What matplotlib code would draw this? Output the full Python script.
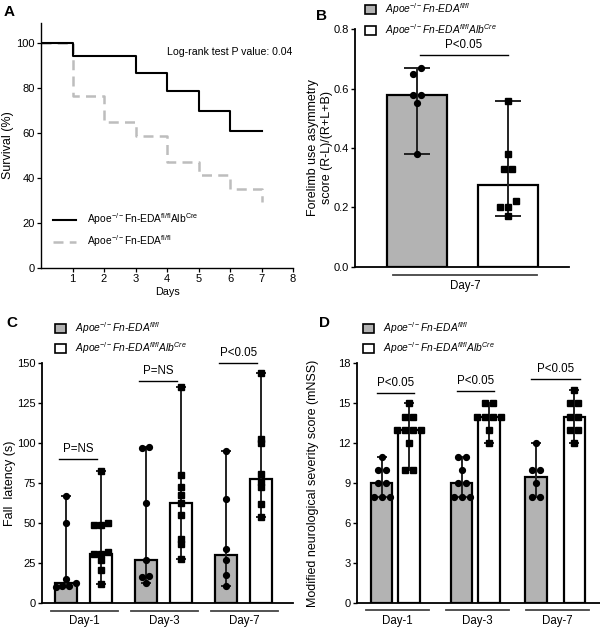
import numpy as np
import matplotlib
matplotlib.use("Agg")
import matplotlib.pyplot as plt
from matplotlib.patches import Patch
from matplotlib.lines import Line2D

plt.rcParams['font.family'] = ['Liberation Sans', 'DejaVu Sans']
plt.rcParams['mathtext.fontset'] = 'custom'
plt.rcParams['mathtext.rm'] = 'Liberation Sans'
plt.rcParams['mathtext.it'] = 'Liberation Sans:italic'
plt.rcParams['mathtext.bf'] = 'Liberation Sans:bold'
plt.rcParams['axes.linewidth'] = 1.3

# ---------------- DATA ----------------
# Panel A: Kaplan-Meier survival
km_cre_days = [0, 1, 3, 4, 5, 6, 7]
km_cre_surv = [100, 94.4, 86.5, 78.5, 69.8, 60.9, 60.9]
km_fl_days = [0, 1, 2, 3, 4, 5, 6, 7, 7]
km_fl_surv = [100, 76.5, 64.7, 58.8, 47.1, 41.2, 35.3, 35.3, 29.4]
logrank_text = "Log-rank test P value: 0.04"

# Panel B: forelimb asymmetry, Day-7
b_category = "Day-7"
b_bar = [0.58, 0.275]
b_fl_pts = [0.67, 0.65, 0.58, 0.58, 0.55, 0.38]
b_cre_pts = [0.56, 0.38, 0.33, 0.33, 0.22, 0.20, 0.20, 0.17]
b_sig = "P<0.05"

# Panel C: fall latency
c_days = ["Day-1", "Day-3", "Day-7"]
c_bar_fl = [12.5, 27, 30]
c_bar_cre = [31, 63, 78]
c_fl_pts = [
    [67, 50, 15, 10.5, 11, 11, 12.5],
    [98, 97, 63, 27, 17, 16.5, 12.5],
    [95, 65, 34, 27, 18, 11],
]
c_cre_pts = [
    [83, 50, 49, 49, 32, 31, 31, 27, 21, 12],
    [135, 80, 73, 68, 63, 55, 40, 37, 28],
    [144, 103, 100, 81, 76, 73, 62, 54],
]
c_sig = ["P=NS", "P=NS", "P<0.05"]

# Panel D: mNSS
d_days = ["Day-1", "Day-3", "Day-7"]
d_bar_fl = [9, 9, 9.5]
d_bar_cre = [13, 14, 14]
d_fl_pts = [
    [11, 10, 10, 9, 9, 8, 8, 8],
    [11, 11, 10, 9, 9, 8, 8, 8],
    [12, 10, 10, 9, 8, 8],
]
d_cre_pts = [
    [15, 14, 14, 13, 13, 13, 13, 12, 10, 10],
    [15, 15, 14, 14, 14, 14, 13, 12],
    [16, 15, 15, 14, 14, 13, 13, 12],
]
d_sig = ["P<0.05", "P<0.05", "P<0.05"]

lab_fl_it = r"Apoe$^{-/-}$Fn-EDA$^{fl/fl}$"
lab_cre_it = r"Apoe$^{-/-}$Fn-EDA$^{fl/fl}$Alb$^{Cre}$"
lab_fl_rm = r"Apoe$^{\mathrm{-/-}}$Fn-EDA$^{\mathrm{fl/fl}}$"
lab_cre_rm = r"Apoe$^{\mathrm{-/-}}$Fn-EDA$^{\mathrm{fl/fl}}$Alb$^{\mathrm{Cre}}$"

# ---------------- STYLE ----------------
GRAY = '#b3b3b3'
ECOL = '#222222'
FS_TICK = 8
FS_LAB = 9

W, H = 600, 627
fig = plt.figure(figsize=(6.0, 6.27), dpi=100)


def ax_px(l, r, t, b):
    return fig.add_axes([l / W, 1 - b / H, (r - l) / W, (b - t) / H])


def jitter(vals, tol, step):
    vals = np.asarray(vals, float)
    order = np.argsort(vals)
    offs = np.zeros(len(vals))
    clusters = []
    cur = [order[0]]
    for i in order[1:]:
        if vals[i] - vals[cur[-1]] < tol:
            cur.append(i)
        else:
            clusters.append(cur)
            cur = [i]
    clusters.append(cur)
    for c in clusters:
        n = len(c)
        for k, i in enumerate(c):
            offs[i] = (k - (n - 1) / 2) * step
    return offs


def style_bar_axes(ax):
    for s in ['top', 'right']:
        ax.spines[s].set_visible(False)
    ax.tick_params(axis='x', bottom=False, labelbottom=False)
    ax.tick_params(axis='y', labelsize=FS_TICK, length=3, width=1, pad=1.5)


def draw_group(ax, x, h, pts, color, marker, width, capsize, tol, step):
    pts = np.asarray(pts, float)
    ax.bar(x, h, width, color=color, edgecolor='black', linewidth=1.6, zorder=1)
    ax.errorbar([x], [h], yerr=[[h - pts.min()], [pts.max() - h]], fmt='none',
                ecolor=ECOL, elinewidth=1.4, capsize=capsize, capthick=1.4, zorder=2)
    offs = jitter(pts, tol, step)
    ax.plot(x + offs, pts, linestyle='none', marker=marker, ms=4.2 if marker == 'o' else 4.0,
            color='black', zorder=3, clip_on=False)


def sig(ax, x0, x1, y, txt, dy):
    ax.plot([x0, x1], [y, y], color='black', lw=1.0, clip_on=False)
    ax.text((x0 + x1) / 2, y + dy, txt, ha='center', va='bottom', fontsize=8.3)


def underline(ax, x0, x1, yl, yt, txt):
    tr = ax.get_xaxis_transform()
    ax.plot([x0, x1], [yl, yl], color='#444444', lw=1.3, transform=tr, clip_on=False)
    ax.text((x0 + x1) / 2, yt, txt, ha='center', va='center', fontsize=8.3, transform=tr)


def bar_legend(ax, x, y):
    hs = [Patch(facecolor=GRAY, edgecolor='black', linewidth=1.2),
          Patch(facecolor='white', edgecolor='black', linewidth=1.2)]
    leg = ax.legend(hs, [lab_fl_it, lab_cre_it], loc='upper left', bbox_to_anchor=(x, y),
                    bbox_transform=fig.transFigure, frameon=False, handlelength=1.1,
                    handleheight=1.0, handletextpad=0.8, labelspacing=0.45,
                    prop={'size': 7.4, 'style': 'italic'}, borderaxespad=0, borderpad=0)
    return leg


# ---------------- PANEL A ----------------
axA = ax_px(41, 293, 22.7, 268)
axA.plot(km_fl_days, km_fl_surv, drawstyle='steps-post', color='#bdbdbd', lw=1.8,
         dashes=(4, 2.5), label=lab_fl_rm, zorder=2)
axA.plot(km_cre_days, km_cre_surv, drawstyle='steps-post', color='black', lw=1.5,
         label=lab_cre_rm, zorder=3)
axA.set_xlim(0, 8)
axA.set_ylim(0, 109)
axA.set_xticks(range(1, 9))
axA.set_yticks(range(0, 101, 20))
for s in ['top', 'right']:
    axA.spines[s].set_visible(False)
axA.spines['left'].set_linewidth(1.0)
axA.spines['bottom'].set_linewidth(1.0)
axA.tick_params(labelsize=FS_TICK, length=3, width=0.9, pad=1.5)
axA.set_xlabel("Days", fontsize=7.8, labelpad=2)
axA.set_ylabel("Survival (%)", fontsize=FS_LAB, labelpad=1.5)
axA.text(4.0, 96, logrank_text, fontsize=7.6, va='center', ha='left')
hA = [Line2D([], [], color='black', lw=1.5),
      Line2D([], [], color='#bdbdbd', lw=1.8, dashes=(4, 2.5))]
axA.legend(hA, [lab_cre_rm, lab_fl_rm], loc='lower left', bbox_to_anchor=(0.03, 0.06),
           frameon=False, fontsize=7.4, handlelength=2.3, handletextpad=1.0,
           labelspacing=0.6, borderaxespad=0)

# ---------------- PANEL B ----------------
axB = ax_px(355, 569, 29.3, 266.7)
style_bar_axes(axB)
draw_group(axB, 0, b_bar[0], b_fl_pts, GRAY, 'o', 0.65, 9.5, 0.025, 0.09)
draw_group(axB, 1, b_bar[1], b_cre_pts, 'white', 's', 0.65, 9.5, 0.025, 0.09)
axB.set_xlim(-0.68, 1.67)
axB.set_ylim(0, 0.8)
axB.set_yticks(np.arange(0, 0.81, 0.2))
axB.set_yticklabels([f"{v:.1f}" for v in np.arange(0, 0.81, 0.2)])
axB.set_ylabel("Forelimb use asymmetry\nscore (R-L)/(R+L+B)", fontsize=FS_LAB, labelpad=0.5)
sig(axB, 0.03, 1.0, 0.715, b_sig, 0.012)
underline(axB, -0.26, 1.32, -0.035, -0.08, b_category)
bar_legend(axB, 365 / W, 1 - 1.5 / H)

# ---------------- PANEL C ----------------
axC = ax_px(41.7, 293, 363.3, 603.3)
style_bar_axes(axC)
for i in range(3):
    draw_group(axC, i - 0.22, c_bar_fl[i], c_fl_pts[i], GRAY, 'o', 0.28, 3.6, 2.2, 0.085)
    draw_group(axC, i + 0.22, c_bar_cre[i], c_cre_pts[i], 'white', 's', 0.28, 3.6, 2.2, 0.085)
axC.set_xlim(-0.52, 2.62)
axC.set_ylim(0, 150)
axC.set_yticks(range(0, 151, 25))
axC.set_ylabel("Fall  latency (s)", fontsize=FS_LAB, labelpad=0.5)
c_sig_y = [90, 139, 150.4]
for i in range(3):
    sig(axC, i - 0.3, i + 0.17, c_sig_y[i], c_sig[i], 2.5)
    underline(axC, i - 0.4, i + 0.43, -0.031, -0.075, c_days[i])
bar_legend(axC, 55 / W, 1 - 320 / H)

# ---------------- PANEL D ----------------
axD = ax_px(356.7, 600, 363.3, 603.3)
style_bar_axes(axD)
d_off_fl = [-0.17, -0.17, -0.24]
d_off_cre = [0.17, 0.17, 0.24]
for i in range(3):
    draw_group(axD, i + d_off_fl[i], d_bar_fl[i], d_fl_pts[i], GRAY, 'o', 0.27, 3.3, 0.4, 0.1)
    draw_group(axD, i + d_off_cre[i], d_bar_cre[i], d_cre_pts[i], 'white', 's', 0.27, 3.3, 0.4, 0.1)
axD.set_xlim(-0.48, 2.56)
axD.set_ylim(0, 18)
axD.set_yticks(range(0, 19, 3))
axD.set_ylabel("Modified neurological severity score (mNSS)", fontsize=FS_LAB, labelpad=14)
d_sig_y = [15.8, 15.9, 16.8]
for i in range(3):
    sig(axD, i + d_off_fl[i] - 0.06, i + d_off_cre[i] + 0.07, d_sig_y[i], d_sig[i], 0.3)
    underline(axD, i - 0.36, i + 0.42, -0.029, -0.072, d_days[i])
bar_legend(axD, 363 / W, 1 - 320 / H)

# panel letters
for lbl, x, y in [("A", 4, 12), ("B", 316, 16), ("C", 6, 323), ("D", 319, 323)]:
    fig.text(x / W, 1 - y / H, lbl, fontsize=11, fontweight='bold', va='center', ha='left')

fig.savefig("out.png", dpi=100)
